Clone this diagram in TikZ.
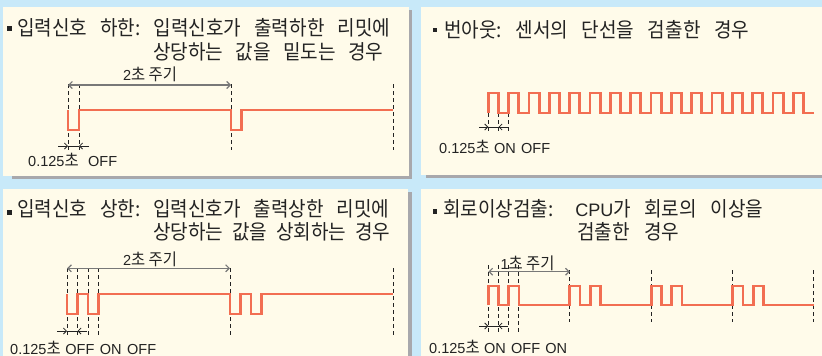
\documentclass[tikz,border=0pt]{standalone}
\usepackage{fontspec}
\newfontfamily\krf[FakeStretch=0.93]{Noto Sans CJK KR}
\newfontfamily\latf[Scale=0.88]{Liberation Sans}
\usetikzlibrary{arrows.meta}
\definecolor{bgblue}{RGB}{200,233,249}
\definecolor{cream}{RGB}{255,251,234}
\definecolor{shadowgray}{RGB}{168,168,172}
\definecolor{sigred}{RGB}{242,110,82}
\definecolor{txt}{RGB}{35,35,35}
\definecolor{arrgray}{RGB}{120,120,120}
\tikzset{
  panelbox/.style={fill=cream, draw=none},
  shadowbox/.style={fill=shadowgray, draw=none},
  sig/.style={draw=sigred, line width=2.8pt, line join=miter},
  guide/.style={draw=txt, line width=0.9pt, dash pattern=on 4pt off 3pt},
  period/.style={draw=arrgray, line width=1.2pt, {Straight Barb[length=3.5pt,width=7pt]}-{Straight Barb[length=3.5pt,width=7pt]}},
  dimarrow/.style={draw=txt, line width=0.8pt, -{Straight Barb[length=3pt,width=6pt]}},
  dimline/.style={draw=txt, line width=0.8pt},
  title/.style={anchor=base west, inner sep=0pt, font=\frenchspacing\krf\fontsize{20.5}{22}\selectfont, text=txt},
  small/.style={inner sep=0pt, font=\frenchspacing\krf\fontsize{16.5}{18}\selectfont, text=txt},
  bulletsq/.style={fill=txt, minimum size=4.5pt, inner sep=0pt},
}
\begin{document}
\frenchspacing
\begin{tikzpicture}[x=1pt,y=-1pt]
\useasboundingbox (0,0) rectangle (822,356);
\fill[bgblue] (0,0) rectangle (822,356);
% panels
\fill[shadowbox] (12,10) rectangle (412,179);
\fill[panelbox] (3,7) rectangle (409,176);
\fill[shadowbox] (426,10) rectangle (822,178);
\fill[panelbox] (421,7) rectangle (822,175);
\fill[shadowbox] (12,192) rectangle (412,356);
\fill[panelbox] (3,189) rectangle (408,356);
\fill[panelbox] (421,189) rectangle (822,356);

% ---------- Panel 1 ----------
\node[bulletsq] (b1) at (9.3,28.5) {};
\node[title] (t1a) at (17,35.5) {\makebox[373pt][s]{입력신호 하한: 입력신호가 출력하한 리밋에}};
\node[title] (t1b) at (153,59) {\makebox[230pt][s]{상당하는 값을 밑도는 경우}};
\foreach \n/\x in {a/68,b/79,c/231,d/393}{
  \coordinate (g1\n t) at (\x,84);
  \coordinate (g1\n b) at (\x,150);
  \draw[guide] (g1\n t) -- (g1\n b);
}
\draw[sig] (68,110) -- (68,130) -- (79,130) -- (79,110) -- (231,110) -- (231,130) -- (241.5,130) -- (241.5,110) -- (393,110);
\coordinate (p1l) at (68,85); \coordinate (p1r) at (231,85);
\draw[period] (p1l) -- (p1r);
\node[small] (l1) at (150,74) {{\latf 2}초 주기};
\coordinate (d1l) at (58,146); \coordinate (d1a) at (68,146);
\coordinate (d1b) at (79,146); \coordinate (d1r) at (89,146);
\draw[dimarrow] (d1l) -- (d1a); \draw[dimarrow] (d1r) -- (d1b); \draw[dimline] (d1a) -- (d1b);
\node[small, anchor=west] (s1) at (28,160) {\makebox[89pt][s]{{\latf 0.125}초 {\latf OFF}}};

% ---------- Panel 2 ----------
\node[bulletsq] (b2) at (435.2,30) {};
\node[title] (t2a) at (444,37) {\makebox[305pt][s]{번아웃: 센서의 단선을 검출한 경우}};
\foreach \n/\x in {a/488.3,b/498.5,c/508.7}{
  \coordinate (g2\n t) at (\x,113);
  \coordinate (g2\n b) at (\x,133);
  \draw[guide] (g2\n t) -- (g2\n b);
}
\draw[sig] (488.3,113) \foreach \k in {1,...,16}{ -- ++(0,-20) -- ++(10.17,0) -- ++(0,20) -- ++(10.17,0)};
\coordinate (d2l) at (479,127); \coordinate (d2a) at (488.3,127);
\coordinate (d2b) at (498.5,127); \coordinate (d2r) at (508,127);
\draw[dimarrow] (d2l) -- (d2a); \draw[dimarrow] (d2r) -- (d2b); \draw[dimline] (d2a) -- (d2b);
\node[small, anchor=west] (s2) at (439,147) {\makebox[111pt][s]{{\latf 0.125}초 {\latf ON OFF}}};

% ---------- Panel 3 ----------
\node[bulletsq] (b3) at (9.3,212.5) {};
\node[title] (t3a) at (17,216) {\makebox[372pt][s]{입력신호 상한: 입력신호가 출력상한 리밋에}};
\node[title] (t3b) at (153,239) {\makebox[237pt][s]{상당하는 값을 상회하는 경우}};
\foreach \n/\x in {a/67,b/77.5,c/88,d/98.5,e/230,f/393}{
  \coordinate (g3\n t) at (\x,268);
  \coordinate (g3\n b) at (\x,335);
  \draw[guide] (g3\n t) -- (g3\n b);
}
\draw[sig] (67,294) -- (67,314) -- (77.5,314) -- (77.5,294) -- (88,294) -- (88,314) -- (98.5,314) -- (98.5,294)
  -- (230,294) -- (230,314) -- (240.5,314) -- (240.5,294) -- (251,294) -- (251,314) -- (261.5,314) -- (261.5,294) -- (393,294);
\coordinate (p3l) at (67,268.3); \coordinate (p3r) at (230,268.3);
\draw[period] (p3l) -- (p3r);
\node[small] (l3) at (150,259) {{\latf 2}초 주기};
\coordinate (d3l) at (57,331); \coordinate (d3a) at (67,331);
\coordinate (d3b) at (77.5,331); \coordinate (d3r) at (87,331);
\draw[dimarrow] (d3l) -- (d3a); \draw[dimarrow] (d3r) -- (d3b); \draw[dimline] (d3a) -- (d3b);
\node[small, anchor=west] (s3) at (10,347.5) {\makebox[146pt][s]{{\latf 0.125}초 {\latf OFF ON OFF}}};

% ---------- Panel 4 ----------
\node[bulletsq] (b4) at (435.2,211.5) {};
\node[title] (t4a) at (443,216) {\makebox[320pt][s]{회로이상검출:\hspace{8pt} {\latf CPU}가 회로의 이상을}};
\node[title] (t4b) at (577,239) {\makebox[102pt][s]{검출한 경우}};
\foreach \n/\x in {a/488.3,b/498.5,c/508.7,d/518.9}{
  \coordinate (g4\n t) at (\x,265);
  \coordinate (g4\n b) at (\x,332);
  \draw[guide] (g4\n t) -- (g4\n b);
}
\foreach \n/\x in {e/569.8,f/651.3,g/732.8,h/813.3}{
  \coordinate (g4\n t) at (\x,270);
  \coordinate (g4\n b) at (\x,322);
  \draw[guide] (g4\n t) -- (g4\n b);
}
\draw[sig] (488.3,305) \foreach \k in {1,...,4}{ -- ++(0,-19) -- ++(10.2,0) -- ++(0,19) -- ++(10.2,0) -- ++(0,-19) -- ++(10.2,0) -- ++(0,19) -- ++(50.9,0)};
\coordinate (p4l) at (488.3,271.7); \coordinate (p4r) at (569.8,271.7);
\draw[period] (p4l) -- (p4r);
\node[small] (l4) at (527.5,263) {{\latf 1}초 주기};
\coordinate (d4l) at (479,326); \coordinate (d4a) at (488.3,326);
\coordinate (d4b) at (498.5,326); \coordinate (d4r) at (508,326);
\draw[dimarrow] (d4l) -- (d4a); \draw[dimarrow] (d4r) -- (d4b); \draw[dimline] (d4a) -- (d4b);
\node[small, anchor=west] (s4) at (429,347) {\makebox[138pt][s]{{\latf 0.125}초 {\latf ON OFF ON}}};
\end{tikzpicture}
\end{document}
